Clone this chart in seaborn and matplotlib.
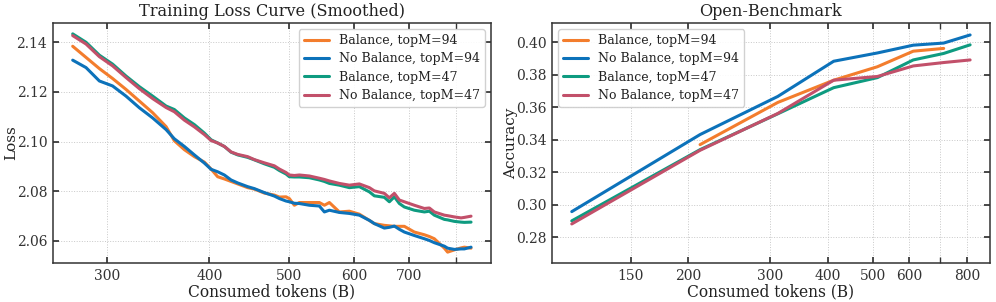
import numpy as np
import pandas as pd
import matplotlib
matplotlib.use("Agg")
import matplotlib.pyplot as plt
import matplotlib.ticker as mticker
import seaborn as sns

# =========================================
# DATA
# =========================================

labels = ["Balance, topM=94", "No Balance, topM=94", "Balance, topM=47", "No Balance, topM=47"]
colors = ["#F37D2D", "#0C72BA", "#0E9B80", "#C2506A"]

# training loss (smoothed), tokens in B
loss_tokens = [272.4, 282.8, 293.6, 304.7, 316.4, 328.5, 341.0, 354.1, 362.4, 372.8,
               383.4, 394.3, 401.8, 409.3, 417.1, 425.0, 433.0, 445.3, 453.8, 466.7,
               480.0, 486.8, 496.0, 500.6, 507.7, 514.9, 529.6, 544.6, 552.4, 560.2,
               576.1, 592.5, 609.4, 626.8, 635.6, 653.7, 663.0, 672.4, 681.9, 691.5,
               711.2, 731.5, 741.8, 752.3, 773.8, 780.9, 795.8, 810.9, 818.5, 834.0]

loss_bal_94 = [2.1384, 2.1339, 2.1294, 2.1254, 2.1210, 2.1163, 2.1116, 2.1060, 2.1003, 2.0967,
               2.0939, 2.0917, 2.0889, 2.0858, 2.0849, 2.0839, 2.0829, 2.0814, 2.0808, 2.0792,
               2.0784, 2.0776, 2.0777, 2.0770, 2.0743, 2.0754, 2.0754, 2.0754, 2.0743, 2.0754,
               2.0716, 2.0719, 2.0707, 2.0682, 2.0669, 2.0662, 2.0660, 2.0658, 2.0658, 2.0658,
               2.0635, 2.0624, 2.0617, 2.0608, 2.0570, 2.0554, 2.0563, 2.0571, 2.0574, 2.0570]

loss_nobal_94 = [2.1328, 2.1298, 2.1244, 2.1224, 2.1183, 2.1136, 2.1095, 2.1048, 2.1011, 2.0980,
                 2.0946, 2.0913, 2.0888, 2.0878, 2.0865, 2.0845, 2.0833, 2.0818, 2.0810, 2.0794,
                 2.0780, 2.0770, 2.0760, 2.0757, 2.0751, 2.0750, 2.0743, 2.0740, 2.0716, 2.0723,
                 2.0714, 2.0710, 2.0703, 2.0682, 2.0669, 2.0651, 2.0654, 2.0659, 2.0646, 2.0635,
                 2.0621, 2.0608, 2.0601, 2.0592, 2.0578, 2.0570, 2.0565, 2.0567, 2.0567, 2.0574]

loss_bal_47 = [2.1434, 2.1400, 2.1348, 2.1312, 2.1264, 2.1221, 2.1183, 2.1143, 2.1129, 2.1095,
               2.1068, 2.1034, 2.1007, 2.0994, 2.0980, 2.0957, 2.0946, 2.0936, 2.0926, 2.0910,
               2.0896, 2.0883, 2.0869, 2.0858, 2.0857, 2.0857, 2.0854, 2.0845, 2.0839, 2.0831,
               2.0824, 2.0814, 2.0818, 2.0797, 2.0781, 2.0775, 2.0757, 2.0777, 2.0750, 2.0736,
               2.0723, 2.0716, 2.0719, 2.0703, 2.0686, 2.0684, 2.0678, 2.0675, 2.0674, 2.0675]

loss_nobal_47 = [2.1427, 2.1393, 2.1342, 2.1305, 2.1258, 2.1213, 2.1173, 2.1137, 2.1120, 2.1086,
                 2.1059, 2.1028, 2.1004, 2.0994, 2.0980, 2.0958, 2.0948, 2.0939, 2.0927, 2.0914,
                 2.0902, 2.0889, 2.0875, 2.0865, 2.0863, 2.0865, 2.0861, 2.0852, 2.0847, 2.0841,
                 2.0831, 2.0824, 2.0829, 2.0814, 2.0801, 2.0791, 2.0773, 2.0791, 2.0764, 2.0757,
                 2.0743, 2.0730, 2.0732, 2.0716, 2.0703, 2.0701, 2.0696, 2.0692, 2.0694, 2.0699]

# open-benchmark accuracy
bench_tokens = [112, 212, 312, 412, 512, 612, 712, 812]
acc_bal_94 = [None, 0.337, 0.363, 0.3767, 0.385, 0.3946, 0.3963, None]
acc_nobal_94 = [0.2957, 0.3432, 0.3667, 0.3884, 0.3935, 0.3983, 0.3996, 0.4046]
acc_bal_47 = [0.2900, 0.3339, 0.3560, 0.3721, 0.3783, 0.3892, 0.3932, 0.3985]
acc_nobal_47 = [0.2881, 0.3335, 0.3562, 0.3767, 0.3790, 0.3855, 0.3876, 0.3892]

loss_series = [loss_bal_94, loss_nobal_94, loss_bal_47, loss_nobal_47]
acc_series = [acc_bal_94, acc_nobal_94, acc_bal_47, acc_nobal_47]

loss_df = pd.concat([
    pd.DataFrame({"tokens": loss_tokens, "value": s, "run": lab})
    for s, lab in zip(loss_series, labels)
], ignore_index=True)

acc_df = pd.concat([
    pd.DataFrame({"tokens": bench_tokens, "value": s, "run": lab})
    for s, lab in zip(acc_series, labels)
], ignore_index=True).dropna()

# =========================================
# STYLE
# =========================================

sns.set_theme(style="ticks")
plt.rcParams["font.family"] = ["DejaVu Serif"]
plt.rcParams.update({
    "axes.edgecolor": "#333333",
    "axes.linewidth": 1.1,
    "xtick.direction": "in",
    "ytick.direction": "in",
    "xtick.top": True,
    "ytick.right": True,
    "xtick.major.size": 4,
    "ytick.major.size": 4,
    "xtick.minor.size": 4,
    "xtick.major.pad": 4,
    "ytick.major.pad": 4,
    "xtick.color": "#333333",
    "ytick.color": "#333333",
    "text.color": "#222222",
    "axes.labelcolor": "#222222",
})
palette = dict(zip(labels, colors))

fig, axes = plt.subplots(1, 2, figsize=(9.96, 3.02), dpi=100)
fig.subplots_adjust(left=0.053, right=0.994, bottom=0.129, top=0.924, wspace=0.139)


def style_axis(ax, majors):
    ax.set_xscale("log")
    ax.xaxis.set_major_locator(mticker.FixedLocator(majors))
    ax.xaxis.set_major_formatter(mticker.FixedFormatter([str(m) for m in majors]))
    ax.xaxis.set_minor_locator(mticker.LogLocator(base=10, subs=np.arange(1, 10)))
    ax.xaxis.set_minor_formatter(mticker.NullFormatter())
    ax.grid(True, which="both", axis="x", linestyle=":", linewidth=0.7, color="#c8c8c8")
    ax.grid(True, which="major", axis="y", linestyle=":", linewidth=0.7, color="#c8c8c8")
    ax.tick_params(which="both", labelsize=10)
    ax.set_xlabel("Consumed tokens (B)", fontsize=11.2, labelpad=0.5)


def add_legend(ax, loc):
    ax.legend(loc=loc, fontsize=9, frameon=True, framealpha=0.9,
              edgecolor="#cccccc", handlelength=2.0, borderpad=0.4, labelspacing=0.42)


# ---------- left: training loss ----------
ax = axes[0]
sns.lineplot(data=loss_df, x="tokens", y="value", hue="run", hue_order=labels,
             palette=palette, linewidth=2.2, ax=ax, sort=True)
style_axis(ax, [300, 400, 500, 600, 700])
ax.set_yticks([2.06, 2.08, 2.10, 2.12, 2.14])
ax.yaxis.set_major_formatter(mticker.FormatStrFormatter("%.2f"))
ax.set_ylabel("Loss", fontsize=11, labelpad=-1.5)
ax.set_title("Training Loss Curve (Smoothed)", fontsize=11.6, pad=5)
add_legend(ax, "upper right")

# ---------- right: benchmark ----------
ax = axes[1]
sns.lineplot(data=acc_df, x="tokens", y="value", hue="run", hue_order=labels,
             palette=palette, linewidth=2.2, ax=ax)
style_axis(ax, [150, 200, 300, 400, 500, 600, 800])
ax.set_ylim(0.264, 0.412)
ax.set_yticks([0.28, 0.30, 0.32, 0.34, 0.36, 0.38, 0.40])
ax.yaxis.set_major_formatter(mticker.FormatStrFormatter("%.2f"))
ax.set_ylabel("Accuracy", fontsize=11, labelpad=-1.5)
ax.set_title("Open-Benchmark", fontsize=11.6, pad=5)
add_legend(ax, "upper left")

fig.savefig("out.png", dpi=100)
